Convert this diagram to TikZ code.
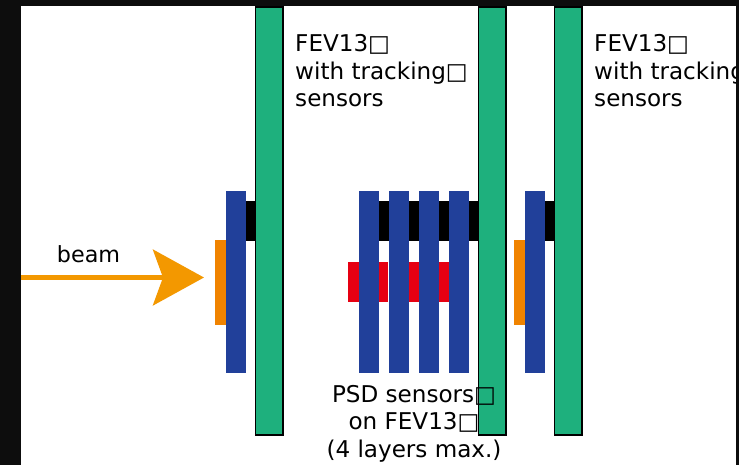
\documentclass[tikz,border=0pt]{standalone}
\usepackage{fontspec}
\setmainfont{DejaVu Sans}
\usetikzlibrary{arrows.meta}
\definecolor{cgreen}{rgb}{0.118, 0.690, 0.490}
\definecolor{cblue}{rgb}{0.129, 0.251, 0.604}
\definecolor{cred}{rgb}{0.902, 0.0, 0.071}
\definecolor{corange}{rgb}{0.941, 0.514, 0.0}
\definecolor{cbeam}{rgb}{0.953, 0.596, 0.0}
\definecolor{cframe}{rgb}{0.05, 0.05, 0.05}
\tikzset{
  board/.style={fill=cgreen, draw=black, line width=1.5pt},
  sensor/.style={fill=cblue},
  label/.style={align=left, anchor=north west, inner sep=0pt, font=\fontsize{19.7}{23.5}\selectfont},
}

\begin{document}
\begin{tikzpicture}[x=0.03cm, y=-0.03cm]
  \useasboundingbox (0, 0) rectangle (739, 465);
  \fill [cframe] (0, 0) rectangle (739, 465);
  \fill [white] (21, 6) rectangle (736, 465);

  % first station
  \fill [corange] (215, 240) rectangle ++(11, 85);
  \fill [black] (246, 201) rectangle ++(11, 40);
  \fill [sensor] (226, 191) rectangle ++(20, 182);
  \draw [board] (255.5, 7) rectangle (283, 435);

  % psd stack
  \fill [cred] (348, 262) rectangle ++(40, 40);
  \fill [cred] (408, 262) rectangle ++(41, 40);
  \fill [black] (379, 201) rectangle ++(101, 40);
  \fill [sensor] (359, 191) rectangle ++(20, 182);
  \fill [sensor] (389, 191) rectangle ++(20, 182);
  \fill [sensor] (419, 191) rectangle ++(20, 182);
  \fill [sensor] (449, 191) rectangle ++(20, 182);
  \draw [board] (478.5, 7) rectangle (506, 435);

  % last station
  \fill [corange] (514, 240) rectangle ++(11, 85);
  \fill [black] (545, 201) rectangle ++(11, 40);
  \fill [sensor] (525, 191) rectangle ++(20, 182);
  \draw [board] (554.5, 7) rectangle (582, 435);

  \coordinate (beamstart) at (21, 277.5);
  \coordinate (beamtip) at (204, 277.5);
  \draw [cbeam, line width=4.6pt, -{Stealth[length=43.5pt, width=47.5pt, inset=8.5pt]}] (beamstart) -- (beamtip);
  \node (beam) at (88.5, 254) {\fontsize{19}{23.5}\selectfont beam};

  \node (fevleft) [label] at (295, 34.5) {FEV13□\\with tracking□\\sensors};
  \node (fevright) [label] at (594, 34.5) {FEV13□\\with tracking□\\sensors};
  \node (psd) [label, align=center, anchor=north] at (414, 385) {PSD sensors□\\on FEV13□\\(4 layers max.)};

  % right edge of the slide covers the text
  \fill [cframe] (736, 0) rectangle (739, 465);
\end{tikzpicture}
\end{document}
